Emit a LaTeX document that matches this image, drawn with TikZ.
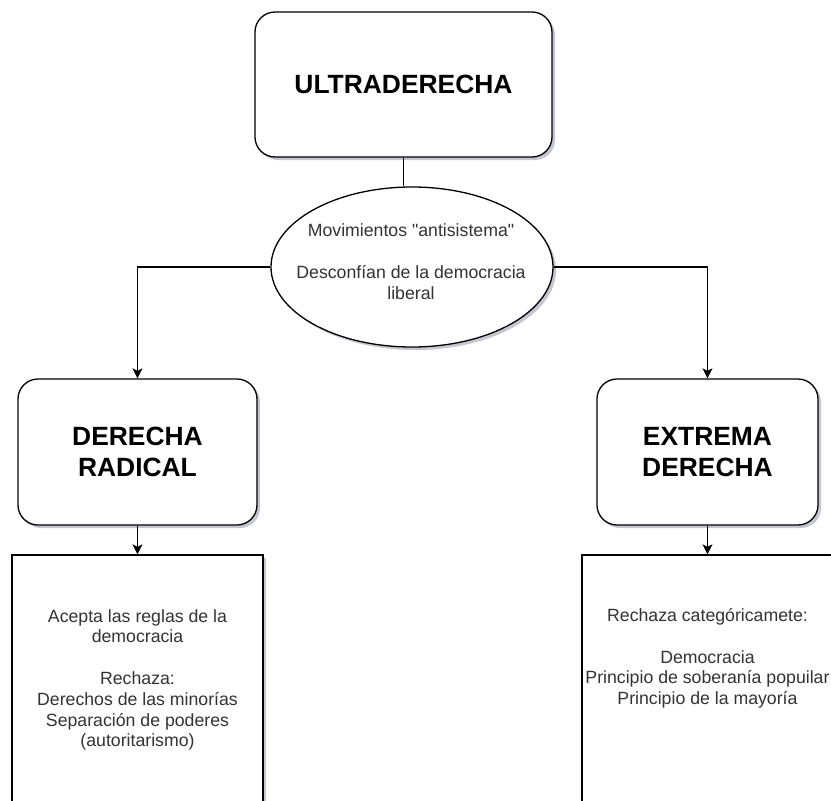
\documentclass[tikz,border=0pt]{standalone}
\usepackage{fontspec}
\setmainfont{Liberation Sans}
\usetikzlibrary{shapes.geometric,arrows.meta,shadows}
\definecolor{txtgray}{HTML}{333333}
\definecolor{shadowc}{RGB}{60,70,110}
\begin{document}
\begin{tikzpicture}[x=1pt,y=-1pt,
  shad/.style={drop shadow={shadow xshift=3pt,shadow yshift=-3pt,opacity=0.3,fill=shadowc}},
  titlebox/.style={draw,line width=1.3pt,rounded corners=20pt,fill=white,shad,
    align=center,font=\fontsize{26.4}{31}\selectfont\bfseries,inner sep=0pt},
  bodybox/.style={draw,line width=1.3pt,fill=white,shad,align=center,
    text=txtgray,font=\fontsize{17.7}{20.8}\selectfont,inner sep=0pt},
  bodytext/.style={align=center,text=txtgray,font=\fontsize{17.7}{20.8}\selectfont,inner sep=0pt},
  conn/.style={line width=1.3pt},
  arr/.style={conn,-{Stealth[length=10pt,width=10pt,inset=2.5pt]}}]
\useasboundingbox (0,0) rectangle (831,801);
\clip (0,0) rectangle (831,801);

\node[titlebox,minimum width=297pt,minimum height=145pt] (ultra) at (403.5,84.5) {ULTRADERECHA};

\node[bodybox,ellipse,minimum width=282pt,minimum height=160pt] (ell) at (412,267) {};
\node[bodytext] (elltxt) at (411,261.5)
  {Movimientos \textquotedbl antisistema\textquotedbl\\[20.8pt]Desconfían de la democracia\\liberal};

\node[titlebox,minimum width=239pt,minimum height=146pt] (dr) at (137.5,452) {DERECHA\\RADICAL};
\node[titlebox,minimum width=221pt,minimum height=146pt] (ed) at (707.5,452) {EXTREMA\\DERECHA};

\node[bodybox,minimum width=251pt,minimum height=250pt] (lrect) at (137.5,680)
  {Acepta las reglas de la\\democracia\\[20.8pt]Rechaza:\\Derechos de las minorías\\Separación de poderes\\(autoritarismo)};
\node[bodybox,minimum width=251pt,minimum height=250pt] (rrect) at (707.5,680) {};
\node[bodytext] (rtxt) at (707.5,658.5)
  {Rechaza categóricamete:\\[20.8pt]Democracia\\Principio de soberanía popuilar\\Principio de la mayoría};

\draw[conn] (ultra.south) -- (ultra.south |- ell.north);
\draw[arr] (ell.west) -| (dr.north);
\draw[arr] (ell.east) -| (ed.north);
\draw[arr] (dr.south) -- (lrect.north);
\draw[arr] (ed.south) -- (rrect.north);
\end{tikzpicture}
\end{document}
